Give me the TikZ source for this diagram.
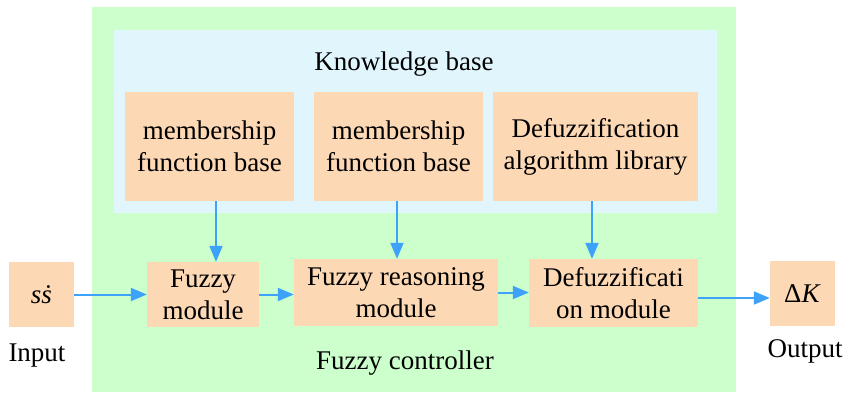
\documentclass[tikz,border=0pt]{standalone}
\usepackage{fontspec}
\setmainfont{Liberation Serif}
\newfontfamily\tms{Liberation Serif}
\usetikzlibrary{arrows.meta}
\definecolor{peach}{RGB}{253,216,181}
\definecolor{lgreen}{RGB}{204,255,204}
\definecolor{lblue}{RGB}{225,245,253}
\definecolor{arrblue}{RGB}{62,162,250}
\begin{document}
\begin{tikzpicture}[x=1pt,y=-1pt,
  every node/.style={font=\tms\fontsize{27pt}{32pt}\selectfont},
  box/.style={fill=peach, inner sep=0pt, align=center},
  arr/.style={draw=arrblue, line width=2pt, -{Triangle[length=16pt,width=13pt]}},
  lbl/.style={inner sep=0pt}
]
\useasboundingbox (0,0) rectangle (849,394);
% backgrounds
\node[fill=lgreen, inner sep=0pt, minimum width=644pt, minimum height=385pt] (ctrl) at (414,199.5) {};
\node[fill=lblue, inner sep=0pt, minimum width=603pt, minimum height=183pt] (kb) at (415.5,121.5) {};
\node[lbl] (kbt) at (404,64) {Knowledge base};
% knowledge boxes
\node[box, minimum width=169pt, minimum height=109pt] (mf1) at (209.5,146.5) {membership\\function base};
\node[box, minimum width=169pt, minimum height=109pt] (mf2) at (398.5,146.5) {membership\\function base};
\node[box, minimum width=205pt, minimum height=109pt] (dal) at (595.5,146.5) {Defuzzification\\algorithm library};
% lower row
\node[box, minimum width=65pt, minimum height=65pt] (in) at (41.5,294.5) {\itshape s\.{s}};
\node[box, minimum width=112pt, minimum height=65pt] (fm) at (203,294.5) {Fuzzy\\module};
\node[box, minimum width=204pt, minimum height=67pt] (fr) at (396,292.5) {Fuzzy reasoning\\module};
\node[box, minimum width=169pt, minimum height=68pt] (dm) at (613.5,293) {Defuzzificati\\on module};
\node[box, minimum width=65pt, minimum height=65pt] (out) at (802.5,293.5) {Δ\textit{K}};
% labels
\node[lbl] (inl) at (37,356) {Input};
\node[lbl] (outl) at (805,351) {Output};
\node[lbl] (ctl) at (405,363) {Fuzzy controller};
% arrows
\draw[arr] (in.east) -- (in.east -| fm.west);
\draw[arr] (fm.east) -- (fm.east -| fr.west);
\draw[arr] (fr.east) -- (fr.east -| dm.west);
\draw[arr] ([yshift=-5pt]dm.east) -- ([yshift=-5pt]dm.east -| out.west);
\draw[arr] ([xshift=6.5pt]mf1.south) -- ([xshift=6.5pt]mf1.south |- fm.north);
\draw[arr] ([xshift=-1.5pt]mf2.south) -- ([xshift=-1.5pt]mf2.south |- fr.north);
\draw[arr] ([xshift=-3.5pt]dal.south) -- ([xshift=-3.5pt]dal.south |- dm.north);
\end{tikzpicture}
\end{document}
